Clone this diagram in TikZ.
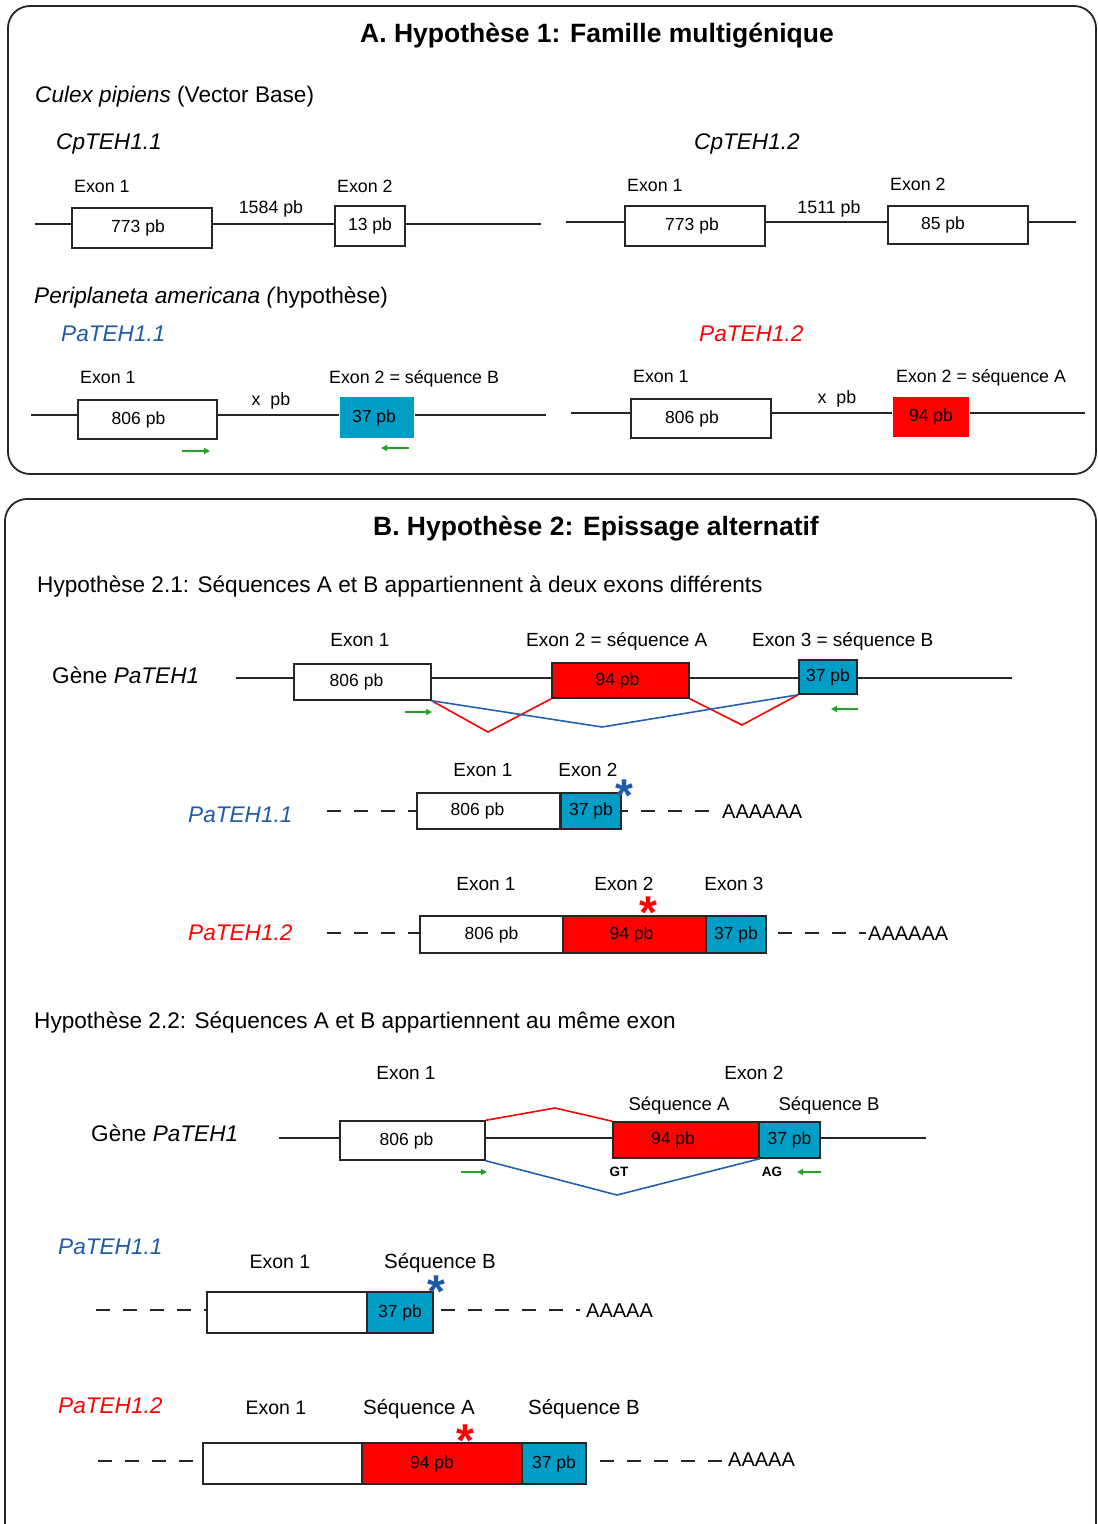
\documentclass[tikz,border=0pt]{standalone}
\usepackage{fontspec}
\setmainfont{Liberation Sans}
\usetikzlibrary{arrows.meta}
\definecolor{cyanbox}{RGB}{0,158,198}
\definecolor{redbox}{RGB}{255,0,0}
\definecolor{bluetxt}{RGB}{31,90,168}
\definecolor{blueline}{RGB}{36,96,176}
\definecolor{greenarr}{RGB}{40,160,40}
\newcommand{\shl}[2]{#2\hspace*{#1}}
\begin{document}
\begin{tikzpicture}[x=1pt,y=-1pt,
  fs/.style={font=\fontsize{#1}{#1}\selectfont},
  fsi/.style={font=\fontsize{#1}{#1}\selectfont\itshape},
  fsb/.style={font=\fontsize{#1}{#1}\selectfont\bfseries},
  txt/.style={inner sep=0pt},
  ebox/.style={draw=black!85, line width=1.5pt, fill=white, inner sep=0pt, font=\fontsize{17.5}{20}\selectfont},
  sz/.style 2 args={minimum width=#1, minimum height=#2},
  cbox/.style={ebox, fill=cyanbox},
  rbox/.style={ebox, fill=redbox},
  gline/.style={line width=1.5pt, black!85},
  dline/.style={line width=1.8pt, black!85, dash pattern=on 14pt off 13pt},
  garrow/.style={greenarr, line width=1.6pt, -{Triangle[length=6pt,width=6pt]}},
  frame/.style={line width=1.8pt, black!85, rounded corners=22pt},
  ast/.style={inner sep=0pt, anchor=north, font=\fontsize{46}{46}\selectfont\bfseries},
  rline/.style={line width=1.6pt, red},
  bline/.style={line width=1.6pt, blueline}
]
\useasboundingbox (0,0) rectangle (1098,1524);
% frames
\draw[frame] (8,6) rectangle (1096,474);
\draw[frame] (5,499) rectangle (1096,1548);

% ===== Panel A =====
\node[txt, anchor=base, fsb=26.5] (tA) at (597,42) {A. Hypothèse 1: Famille multigénique};
\node[txt, anchor=base west, fs=22.6] (culex) at (35,102) {\textit{Culex pipiens} (Vector Base)};
\node[txt, anchor=base west, fsi=22.6] (cp11) at (56,149) {CpTEH1.1};
\node[txt, anchor=base west, fsi=22.6] (cp12) at (694,149) {CpTEH1.2};

% CpTEH1.1 gene
\coordinate (L1s) at (35,224); \coordinate (L1e) at (541,224);
\node[ebox, sz={140}{40}] (A1a) at (142,228) {\shl{8pt}{773 pb}};
\node[ebox, sz={70}{40}] (A1b) at (370,226) {13 pb};
\draw[gline] (L1s) -- (A1a.west |- L1s);
\draw[gline] (A1a.east |- L1s) -- (A1b.west |- L1s);
\draw[gline] (A1b.east |- L1s) -- (L1e);
\node[txt, anchor=base west, fs=17.8] (A1ax) at (74,192) {Exon 1};
\node[txt, anchor=base west, fs=17.8] (A1bx) at (337,192) {Exon 2};
\node[txt, anchor=base, fs=17.8] (A1i) at (271,213) {1584 pb};

% CpTEH1.2 gene
\coordinate (L2s) at (566,222); \coordinate (L2e) at (1076,222);
\node[ebox, sz={140}{40}] (A2a) at (695,226) {\shl{6pt}{773 pb}};
\node[ebox, sz={140}{38}] (A2b) at (958,225) {\shl{30pt}{85 pb}};
\draw[gline] (L2s) -- (A2a.west |- L2s);
\draw[gline] (A2a.east |- L2s) -- (A2b.west |- L2s);
\draw[gline] (A2b.east |- L2s) -- (L2e);
\node[txt, anchor=base west, fs=17.8] (A2ax) at (627,191) {Exon 1};
\node[txt, anchor=base west, fs=17.8] (A2bx) at (890,190) {Exon 2};
\node[txt, anchor=base, fs=17.8] (A2i) at (829,213) {1511 pb};

\node[txt, anchor=base west, fs=22.6] (peri) at (34,303) {\textit{Periplaneta americana (}hypothèse)};
\node[txt, anchor=base west, fsi=22.6, text=bluetxt] (pa11) at (61,341) {PaTEH1.1};
\node[txt, anchor=base west, fsi=22.6, text=red] (pa12) at (699,341) {PaTEH1.2};

% PaTEH1.1 hypothetical gene
\coordinate (L3s) at (31,415); \coordinate (L3e) at (546,415);
\node[ebox, sz={139}{39}] (P1a) at (147.5,419.5) {\shl{18pt}{806 pb}};
\node[cbox, draw=none, sz={74}{41}] (P1b) at (377,417.5) {\shl{6pt}{37 pb}};
\draw[gline] (L3s) -- (P1a.west |- L3s);
\draw[gline] (P1a.east |- L3s) -- (P1b.west |- L3s);
\draw[gline] (P1b.east |- L3s) -- (L3e);
\node[txt, anchor=base west, fs=17.8] (P1ax) at (80,383) {Exon 1};
\node[txt, anchor=base west, fs=17.8] (P1bx) at (329,383) {Exon 2 = séquence B};
\node[txt, anchor=base, fs=17.8] (P1i) at (271,405) {x\ \ pb};
\coordinate (g1s) at (182,451); \coordinate (g1e) at (210,451);
\coordinate (g2s) at (409,448); \coordinate (g2e) at (381,448);
\draw[garrow] (g1s) -- (g1e);
\draw[garrow] (g2s) -- (g2e);

% PaTEH1.2 hypothetical gene
\coordinate (L4s) at (571,413); \coordinate (L4e) at (1085,413);
\node[ebox, sz={140}{39}] (P2a) at (701,418.5) {\shl{18pt}{806 pb}};
\node[rbox, draw=none, sz={76}{40}] (P2b) at (931,417) {94 pb};
\draw[gline] (L4s) -- (P2a.west |- L4s);
\draw[gline] (P2a.east |- L4s) -- (P2b.west |- L4s);
\draw[gline] (P2b.east |- L4s) -- (L4e);
\node[txt, anchor=base west, fs=17.8] (P2ax) at (633,382) {Exon 1};
\node[txt, anchor=base west, fs=17.8] (P2bx) at (896,382) {Exon 2 = séquence A};
\node[txt, anchor=base, fs=17.8] (P2i) at (837,403) {x\ \ pb};

% ===== Panel B =====
\node[txt, anchor=base, fsb=26.5] (tB) at (596,535) {B. Hypothèse 2: Epissage alternatif};
\node[txt, anchor=base west, fs=22.6] (h21) at (37,592) {Hypothèse 2.1: Séquences A et B appartiennent à deux exons différents};

% gene 2.1
\node[txt, anchor=base west, fs=22.6] (g21) at (52,683) {Gène \textit{PaTEH1}};
\coordinate (L5s) at (236,678); \coordinate (L5e) at (1012,678);
\node[ebox, sz={137}{36}] (B1) at (362.5,682) {\shl{12pt}{806 pb}};
\node[rbox, sz={137}{35}] (B2) at (620.5,680.5) {\shl{6pt}{94 pb}};
\node[cbox, sz={58}{34}] (B3) at (828,677) {37 pb};
\draw[gline] (L5s) -- (B1.west |- L5s);
\draw[gline] (B1.east |- L5s) -- (B2.west |- L5s);
\draw[gline] (B2.east |- L5s) -- (B3.west |- L5s);
\draw[gline] (B3.east |- L5s) -- (L5e);
\node[txt, anchor=base, fs=19] (B1x) at (360,646) {Exon 1};
\node[txt, anchor=base west, fs=19] (B2x) at (526,646) {Exon 2 = séquence A};
\node[txt, anchor=base west, fs=19] (B3x) at (752,646) {Exon 3 = séquence B};
\coordinate (r1) at (488,732); \coordinate (r2) at (742,725); \coordinate (b1) at (602,727);
\draw[rline] (B1.south east) -- (r1) -- (B2.south west);
\draw[rline] (B2.south east) -- (r2) -- (B3.south west);
\draw[bline] (B1.south east) -- (b1) -- (B3.south west);
\coordinate (g3s) at (405,712); \coordinate (g3e) at (432,712);
\coordinate (g4s) at (858,709); \coordinate (g4e) at (831,709);
\draw[garrow] (g3s) -- (g3e);
\draw[garrow] (g4s) -- (g4e);

% transcript PaTEH1.1 (2.1)
\node[txt, anchor=base west, fsi=22.6, text=bluetxt] (t11) at (188,822) {PaTEH1.1};
\coordinate (L6s) at (327,811);
\node[ebox, sz={143}{36}] (T1a) at (488.5,811) {\shl{22pt}{806 pb}};
\node[cbox, sz={60}{36}] (T1b) at (591,811) {37 pb};
\coordinate (L6e) at (712,811);
\draw[dline] (L6s) -- (T1a.west);
\draw[dline, dash phase=8pt] (T1b.east) -- (L6e);
\node[txt, anchor=base west, fs=20] (A6) at (722,818) {AAAAAA};
\node[txt, anchor=base, fs=19] (T1ax) at (483,776) {Exon 1};
\node[txt, anchor=base, fs=19] (T1bx) at (588,776) {Exon 2};
\node[ast, text=bluetxt] (s1) at (624,779) {\raisebox{-0.40em}[0.3em][0pt]{*}};

% transcript PaTEH1.2 (2.1)
\node[txt, anchor=base west, fsi=22.6, text=red] (t12) at (188,940) {PaTEH1.2};
\coordinate (L7s) at (327,933);
\node[ebox, sz={143}{37}] (T2a) at (491.5,934.5) {806 pb};
\node[rbox, sz={143}{37}] (T2b) at (634.5,934.5) {\shl{6pt}{94 pb}};
\node[cbox, sz={60}{37}] (T2c) at (736,934.5) {37 pb};
\coordinate (L7a) at (778,933); \coordinate (L7e) at (866,933);
\draw[dline] (L7s) -- (T2a.west |- L7s);
\draw[dline] (L7a) -- (L7e);
\node[txt, anchor=base west, fs=20] (A7) at (868,940) {AAAAAA};
\node[txt, anchor=base, fs=19] (T2ax) at (486,890) {Exon 1};
\node[txt, anchor=base, fs=19] (T2bx) at (624,890) {Exon 2};
\node[txt, anchor=base, fs=19] (T2cx) at (734,890) {Exon 3};
\node[ast, text=red] (s2) at (648,896) {\raisebox{-0.40em}[0.3em][0pt]{*}};

% ===== Hypothesis 2.2 =====
\node[txt, anchor=base west, fs=22.6] (h22) at (34,1028) {Hypothèse 2.2: Séquences A et B appartiennent au même exon};
\node[txt, anchor=base west, fs=22.6] (g22) at (91,1141) {Gène \textit{PaTEH1}};
\coordinate (L8s) at (279,1138); \coordinate (L8e) at (926,1138);
\node[ebox, sz={145}{39}] (C1) at (412.5,1140.5) {\shl{12pt}{806 pb}};
\node[rbox, sz={146}{36}] (C2) at (686,1140) {\shl{26pt}{94 pb}};
\node[cbox, sz={61}{36}] (C3) at (789.5,1140) {37 pb};
\draw[gline] (L8s) -- (C1.west |- L8s);
\draw[gline] (C1.east |- L8s) -- (C2.west |- L8s);
\draw[gline] (C3.east |- L8s) -- (L8e);
\node[txt, anchor=base, fs=19] (C1x) at (406,1079) {Exon 1};
\node[txt, anchor=base, fs=19] (C2x) at (754,1079) {Exon 2};
\node[txt, anchor=base, fs=18.5] (CAx) at (679,1110) {Séquence A};
\node[txt, anchor=base, fs=18.5] (CBx) at (829,1110) {Séquence B};
\coordinate (r3) at (555,1108); \coordinate (b3) at (617,1195);
\draw[rline] (C1.north east) -- (r3) -- (C2.north west);
\draw[bline] (C1.south east) -- (b3) -- (C2.south east);
\node[txt, anchor=base, fsb=13.5] (GT) at (619,1176) {GT};
\node[txt, anchor=base, fsb=13.5] (AG) at (772,1176) {AG};
\coordinate (g5s) at (461,1172); \coordinate (g5e) at (487,1172);
\coordinate (g6s) at (821,1172); \coordinate (g6e) at (797,1172);
\draw[garrow] (g5s) -- (g5e);
\draw[garrow] (g6s) -- (g6e);

% transcript PaTEH1.1 (2.2)
\node[txt, anchor=base west, fsi=22.6, text=bluetxt] (u11) at (58,1254) {PaTEH1.1};
\node[txt, anchor=base, fs=19.5] (D1ax) at (280,1268) {Exon 1};
\node[txt, anchor=base, fs=20.5] (D1bx) at (440,1268) {Séquence B};
\coordinate (L9s) at (96,1310);
\node[ebox, sz={160}{41}] (D1a) at (287,1312.5) {};
\node[cbox, sz={66}{41}] (D1b) at (400,1312.5) {37 pb};
\coordinate (L9a) at (441,1310); \coordinate (L9e) at (580,1310);
\draw[dline] (L9s) -- (D1a.west |- L9s);
\draw[dline] (L9a) -- (L9e);
\node[txt, anchor=base west, fs=20] (A9) at (586,1317) {AAAAA};
\node[ast, text=bluetxt] (s3) at (436,1275) {\raisebox{-0.40em}[0.3em][0pt]{*}};

% transcript PaTEH1.2 (2.2)
\node[txt, anchor=base west, fsi=22.6, text=red] (u12) at (58,1413) {PaTEH1.2};
\node[txt, anchor=base, fs=19.5] (D2ax) at (276,1414) {Exon 1};
\node[txt, anchor=base, fs=20.5] (D2bx) at (419,1414) {Séquence A};
\node[txt, anchor=base, fs=20.5] (D2cx) at (584,1414) {Séquence B};
\coordinate (L10s) at (98,1461); \coordinate (L10a) at (194,1461);
\node[ebox, sz={159}{41}] (D2a) at (282.5,1463.5) {};
\node[rbox, sz={160}{41}] (D2b) at (442,1463.5) {\shl{20pt}{94 pb}};
\node[cbox, sz={64}{41}] (D2c) at (554,1463.5) {37 pb};
\coordinate (L10b) at (600,1461); \coordinate (L10e) at (722,1461);
\draw[dline] (L10s) -- (L10a);
\draw[dline] (L10b) -- (L10e);
\node[txt, anchor=base west, fs=20] (A10) at (728,1466) {AAAAA};
\node[ast, text=red] (s4) at (465,1424) {\raisebox{-0.40em}[0.3em][0pt]{*}};
\end{tikzpicture}
\end{document}
